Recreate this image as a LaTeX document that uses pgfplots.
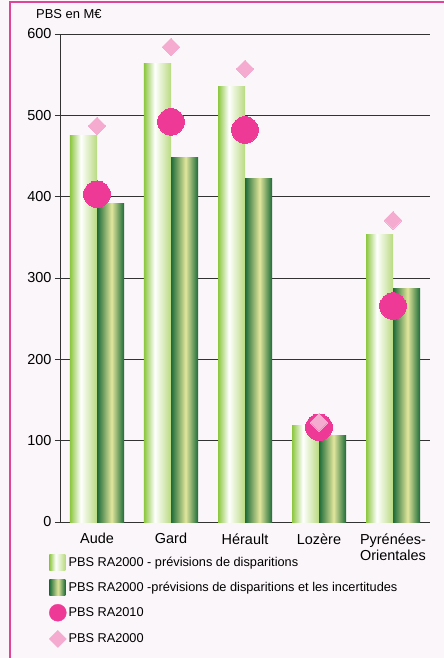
\documentclass[border=0pt]{standalone}
\usepackage{pgfplots}
\pgfplotsset{compat=1.18}
\usepackage{fontspec}
\setmainfont{Liberation Sans}
\definecolor{bgpink}{HTML}{FBF6FA}
\definecolor{framepink}{HTML}{E0449A}
\definecolor{lgA}{HTML}{8DC63F}
\definecolor{lgB}{HTML}{B8DA80}
\definecolor{dgA}{HTML}{1C6B38}
\definecolor{dgM}{HTML}{E2E69C}
\definecolor{pinkC}{HTML}{EE3A96}
\definecolor{pinkD}{HTML}{F5AACF}
\definecolor{gridc}{HTML}{333333}
\pgfdeclarehorizontalshading{lightbar}{100bp}{color(0bp)=(lgA); color(25bp)=(lgA); color(45bp)=(white); color(75bp)=(lgB); color(100bp)=(lgB)}
\pgfdeclarehorizontalshading{darkbar}{100bp}{color(0bp)=(dgA); color(25bp)=(dgA); color(52bp)=(dgM); color(75bp)=(dgA); color(100bp)=(dgA)}
\pgfplotsset{
  lbar/.style={ybar, draw=none, shading=lightbar, bar width=27bp, bar shift=-13.5bp,
    legend image code/.code={\shade[shading=lightbar] (0bp,-8bp) rectangle (16bp,8bp);}},
  dbar/.style={ybar, draw=none, shading=darkbar, bar width=27bp, bar shift=13.5bp,
    legend image code/.code={\shade[shading=darkbar] (0bp,-8bp) rectangle (16bp,8bp);}},
}
\begin{document}
\begin{tikzpicture}
\useasboundingbox (-60bp,-136bp) rectangle (384bp,522bp);
\fill[bgpink] (-60bp,-136bp) rectangle (384bp,522bp);
\draw[framepink, line width=1.2bp] (-50bp,-136bp) -- (-50bp,520bp) -- (384bp,520bp);
\begin{axis}[
  scale only axis,
  width=370bp, height=488bp,
  xmin=-0.5, xmax=4.5,
  ymin=0, ymax=600,
  xtick={0,1,2,3,4},
  xticklabels={Aude,Gard,Hérault,Lozère,{Pyrénées-\\Orientales}},
  ytick={0,100,200,300,400,500,600},
  axis lines*=left,
  axis line style={color=gridc, line width=0.9bp},
  ymajorgrids,
  grid style={color=gridc, line width=0.8bp},
  x tick style={draw=none},
  y tick style={color=gridc, line width=0.9bp},
  tick align=outside,
  major tick length=5bp,
  /pgf/number format/assume math mode=true,
  yticklabel style={font=\fontsize{14.5}{16}\selectfont},
  xticklabel style={font=\fontsize{14.5}{16.5}\selectfont, align=center, yshift=-3bp},
  legend cell align=left,
  legend style={draw=none, fill=none, anchor=north west, at={(-0.038,-0.062)},
    font=\fontsize{12.8}{14}\selectfont, row sep=8.8bp,
    nodes={inner sep=2bp}},
  clip=false,
]
\addplot[lbar] coordinates {(0,475)};
\addlegendentry{PBS RA2000 - prévisions de disparitions}
\addplot[lbar, forget plot] coordinates {(1,564)};
\addplot[lbar, forget plot] coordinates {(2,535)};
\addplot[lbar, forget plot] coordinates {(3,119)};
\addplot[lbar, forget plot] coordinates {(4,353)};
\addplot[dbar] coordinates {(0,392)};
\addlegendentry{PBS RA2000 -prévisions de disparitions et les incertitudes}
\addplot[dbar, forget plot] coordinates {(1,448)};
\addplot[dbar, forget plot] coordinates {(2,422)};
\addplot[dbar, forget plot] coordinates {(3,106)};
\addplot[dbar, forget plot] coordinates {(4,287)};
\addplot[only marks, color=pinkC, mark=*, mark size=13.3bp, mark options={fill=pinkC, draw=pinkC, line width=0pt},
  legend image code/.code={\fill[pinkC] (8.5bp,0bp) circle (8.5bp);}]
  coordinates {(0,403) (1,492) (2,482) (3,116.5) (4,265.5)};
\addlegendentry{PBS RA2010}
\addplot[only marks, color=pinkD, mark=square*, mark size=6.2bp, mark options={fill=pinkD, draw=pinkD, line width=0pt, rotate=45},
  legend image code/.code={\fill[pinkD] (0bp,0bp) -- (8.5bp,8.5bp) -- (17bp,0bp) -- (8.5bp,-8.5bp) -- cycle;}]
  coordinates {(0,487) (1,584) (2,557) (3,122.5) (4,371)};
\addlegendentry{PBS RA2000}
\end{axis}
\node[anchor=base west, font=\fontsize{13}{15}\selectfont, inner sep=0pt] at (-24bp,503bp) {PBS en M€};
\end{tikzpicture}
\end{document}
